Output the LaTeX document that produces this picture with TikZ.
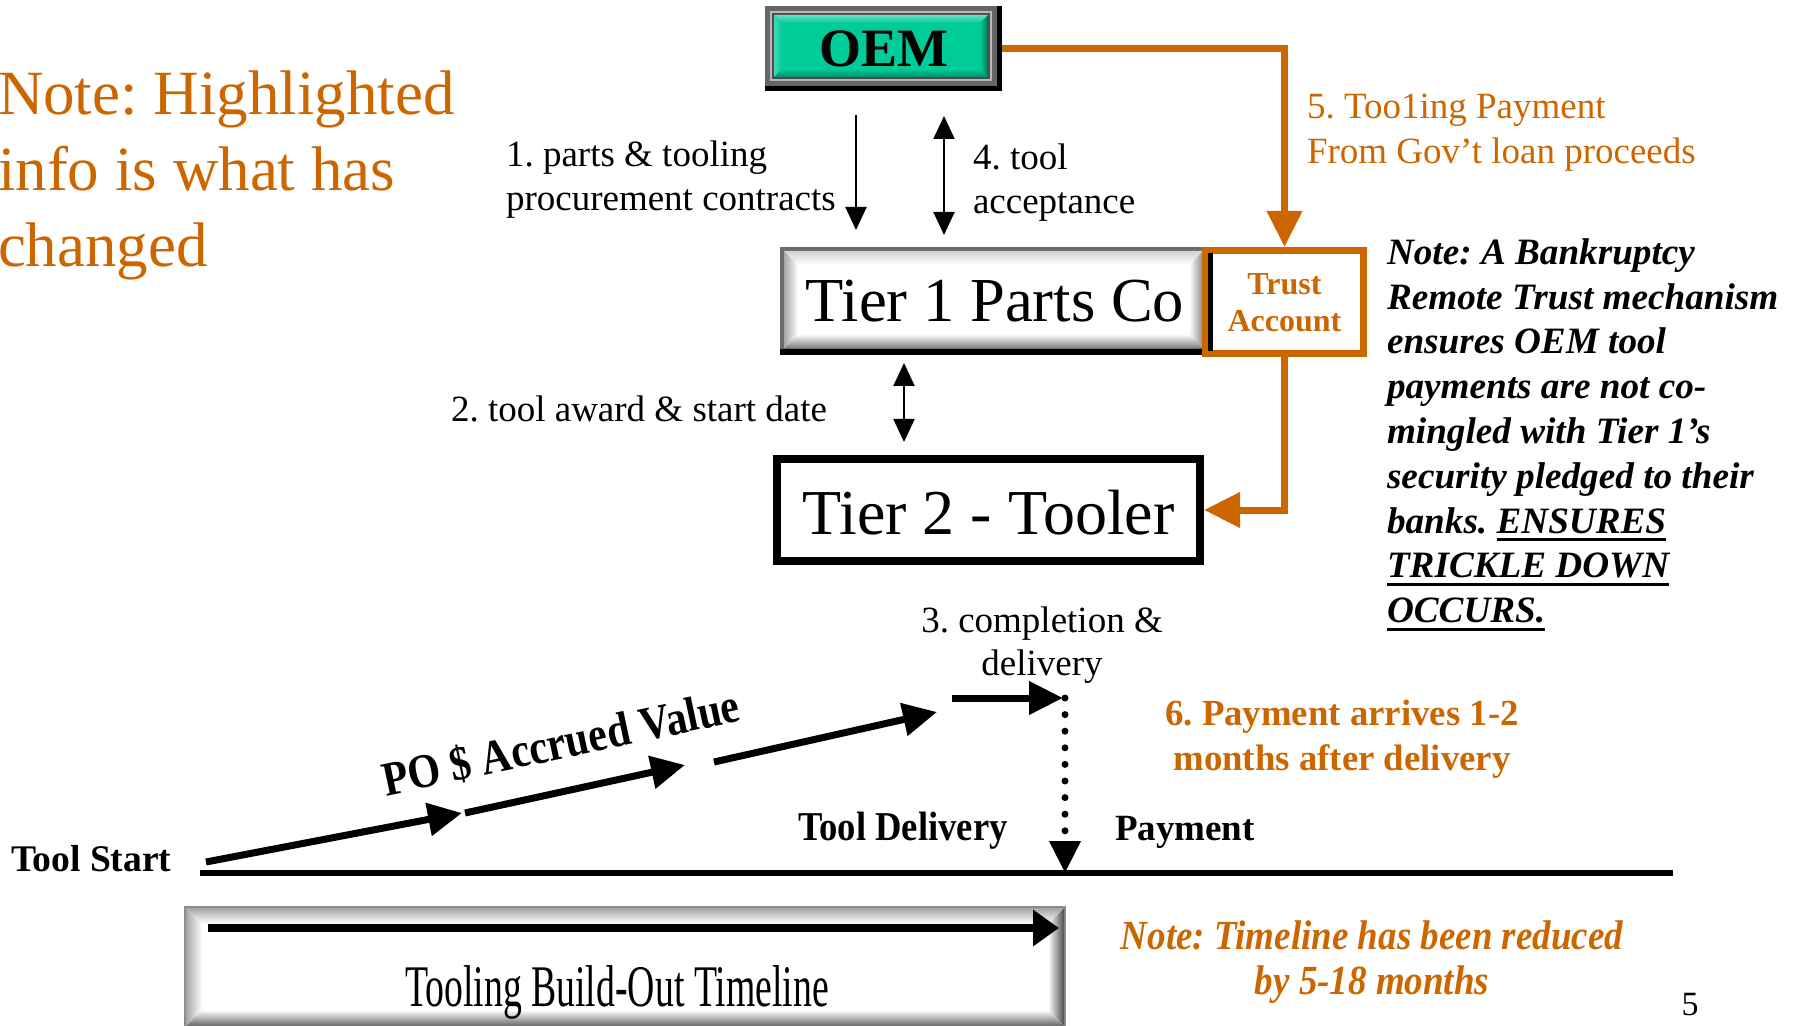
\documentclass[tikz,border=0pt]{standalone}
\usepackage{fontspec}
\usepackage{graphicx}
\setmainfont{Liberation Serif}
\frenchspacing
\usetikzlibrary{arrows.meta}
\definecolor{hl}{HTML}{CC6600}
\definecolor{tealbox}{HTML}{00CC99}
\newcommand{\mybevel}[5]{%
  \fill[bvc] (#1,#2) rectangle (#3,#4);
  \shade[top color=bvt, bottom color=bvc] (#1,#2) -- (#3,#2) -- ({#3-#5},{#2+#5}) -- ({#1+#5},{#2+#5}) -- cycle;
  \shade[left color=bvl, right color=bvc] (#1,#2) -- ({#1+#5},{#2+#5}) -- ({#1+#5},{#4-#5}) -- (#1,#4) -- cycle;
  \shade[left color=bvc, right color=bvr] (#3,#2) -- (#3,#4) -- ({#3-#5},{#4-#5}) -- ({#3-#5},{#2+#5}) -- cycle;
  \shade[top color=bvc, bottom color=bvb] (#1,#4) -- (#3,#4) -- ({#3-#5},{#4-#5}) -- ({#1+#5},{#4-#5}) -- cycle;
}
\newcommand{\myul}[1]{\sbox0{#1}\rlap{\rule[-4pt]{\wd0}{1.5pt}}\usebox0}
\tikzset{
  lbl/.style={inner sep=0pt, outer sep=0pt, font=\fontsize{18.5}{22}\selectfont},
  thinarr/.style={line width=1pt, -{Triangle[length=11.5pt,width=10.5pt]}},
  thinboth/.style={line width=1pt, {Triangle[length=11.5pt,width=10.5pt]}-{Triangle[length=11.5pt,width=10.5pt]}},
  thickarr/.style={line width=3.5pt, -{Triangle[length=17pt,width=16pt]}},
  orarr/.style={draw=hl, line width=3.5pt, line join=miter, -{Triangle[length=18pt,width=17pt]}},
  dotarr/.style={line width=3.5pt, line cap=round, dash pattern=on 0pt off 8.3pt, -{Triangle[length=16pt,width=15pt]}},
}
\begin{document}
\begin{tikzpicture}[x=0.5pt,y=-0.5pt]
\useasboundingbox (0,0) rectangle (1799,1026);

% ---------- OEM box (bevel) ----------
\fill[black] (765,6) rectangle (1002,91);
\fill[black!60] (765,6) rectangle (997,86);
\fill[black!28] (770,11) rectangle (992,81);
\fill[black!70] (772,13) rectangle (990,79);
\colorlet{bvc}{tealbox}\colorlet{bvt}{tealbox!60!white}\colorlet{bvl}{tealbox!75!white}
\colorlet{bvr}{tealbox!55!black}\colorlet{bvb}{tealbox!70!black}
\mybevel{774}{15}{988}{77}{8}
\node[inner sep=0pt, outer sep=0pt, minimum width=118.5pt, minimum height=42.5pt,
      text height=18.5pt, text depth=0pt, font=\fontsize{27}{30}\selectfont\bfseries] (oem) at (883.5,48.5) {OEM};

% ---------- Tier 1 box (bevel) ----------
\fill[black] (780,247) rectangle (1213,355);
\fill[black!58] (780,247) rectangle (1207,349);
\colorlet{bvc}{white}\colorlet{bvt}{black!18}\colorlet{bvl}{black!35}
\colorlet{bvr}{black!45}\colorlet{bvb}{black!50}
\mybevel{784}{251}{1203}{348}{14}
\node[inner sep=0pt, outer sep=0pt, minimum width=213.5pt, minimum height=54pt,
      text height=21pt, text depth=0pt, font=\fontsize{31.3}{34}\selectfont] (tier1) at (995,301) {Tier 1 Parts Co};

% ---------- Trust account ----------
\node[draw=hl, line width=3.5pt, fill=white, inner sep=0pt, minimum width=79pt, minimum height=51.5pt,
      text=hl, text height=13pt, text depth=20pt, font=\fontsize{16}{18.5}\selectfont\bfseries]
      (trust) at (1284.5,302) {\begin{tabular}[t]{@{}c@{}}Trust\\Account\end{tabular}};
\draw[line width=2.5pt] (1210.5,253) -- (1210.5,351);

% ---------- Tier 2 box ----------
\node[draw, line width=4pt, fill=white, inner sep=0pt, minimum width=211.5pt, minimum height=51pt,
      text height=24pt, text depth=0pt, font=\fontsize{32}{36}\selectfont] (tier2) at (988.5,510) {Tier 2 - Tooler};

% ---------- orange connectors ----------
\draw[orarr] (oem.east) -| (trust.north);
\draw[orarr] (trust.south) |- (tier2.east);

% ---------- thin arrows ----------
\coordinate (a1s) at (856,115); \coordinate (a1e) at (856,230);
\coordinate (a4s) at (944,116); \coordinate (a4e) at (944,235);
\coordinate (a2s) at (904,363); \coordinate (a2e) at (904,442);
\draw[thinarr] (a1s) -- (a1e);
\draw[thinboth] (a4s) -- (a4e);
\draw[thinboth] (a2s) -- (a2e);

% ---------- labels ----------
\node[lbl, anchor=north west, text=hl, font=\fontsize{31.5}{38}\selectfont] (note) at (-2,61.8)
  {\begin{tabular}{@{}l@{}}Note: Highlighted\\info is what has\\changed\end{tabular}};
\node[lbl, anchor=north west] (lab1) at (506,136.2)
  {\begin{tabular}{@{}l@{}}1. parts \& tooling\\procurement contracts\end{tabular}};
\node[lbl, anchor=north west] (lab4) at (973,139.2)
  {\begin{tabular}{@{}l@{}}4. tool\\acceptance\end{tabular}};
\node[lbl, anchor=north west, text=hl, font=\fontsize{18.5}{22.5}\selectfont] (lab5) at (1307,87)
  {\begin{tabular}{@{}l@{}}5. Too1ing Payment\\From Gov’t loan proceeds\end{tabular}};
\node[lbl, anchor=base west] (lab2) at (451,422) {2. tool award \& start date};
\node[lbl, anchor=north, font=\fontsize{18.5}{21.5}\selectfont] (lab3) at (1042,601.9)
  {\begin{tabular}{@{}c@{}}3. completion \&\\delivery\end{tabular}};
\node[lbl, anchor=north, text=hl, font=\fontsize{18.4}{22.5}\selectfont\bfseries] (lab6) at (1342,694)
  {\begin{tabular}{@{}c@{}}6. Payment arrives 1-2\\months after delivery\end{tabular}};
\node[lbl, anchor=north west, font=\fontsize{18.6}{22.4}\selectfont\bfseries\itshape] (trustnote) at (1387,233)
  {\begin{tabular}{@{}l@{}}Note: A Bankruptcy\\Remote Trust mechanism\\ensures OEM tool\\payments are not co-\\mingled with Tier 1’s\\security pledged to their\\banks. \myul{ENSURES}\\\myul{TRICKLE DOWN}\\\myul{OCCURS.}\end{tabular}};
\node[lbl, anchor=north, text=hl, font=\fontsize{18.5}{20}\selectfont\bfseries\itshape] (tlnote) at (1372,918)
  {\scalebox{1}[1.12]{\begin{tabular}{@{}c@{}}Note: Timeline has been reduced\\by 5-18 months\end{tabular}}};

% ---------- timeline ----------
\coordinate (tl0) at (200,873); \coordinate (tl1) at (1673,873);
\draw[line width=3pt] (tl0) -- (tl1);
\node[lbl, anchor=base west, font=\fontsize{18.8}{22}\selectfont\bfseries] (tstart) at (11,871) {Tool Start};
\node[lbl, anchor=base, font=\fontsize{18.3}{22}\selectfont\bfseries] (tdlab) at (903,840) {\scalebox{1}[1.12]{Tool Delivery}};
\node[lbl, anchor=base west, font=\fontsize{18.5}{22}\selectfont\bfseries] (paylab) at (1115,840) {Payment};
\node[lbl, rotate=12, font=\fontsize{21}{24}\selectfont\bfseries] (po) at (561,743) {\scalebox{1}[1.15]{PO \$ Accrued Value}};

\coordinate (t1s) at (206,862); \coordinate (t1e) at (462,813);
\coordinate (t2s) at (465,813); \coordinate (t2e) at (685,765);
\coordinate (t3s) at (714,762); \coordinate (t3e) at (937,712);
\coordinate (t4s) at (952,698); \coordinate (deliv) at (1063,698);
\coordinate (dtop) at (1065,698); \coordinate (tdel) at (1065,873);
\draw[thickarr] (t1s) -- (t1e);
\draw[thickarr] (t2s) -- (t2e);
\draw[thickarr] (t3s) -- (t3e);
\draw[thickarr] (t4s) -- (deliv);
\draw[dotarr] (dtop) -- (tdel);

% ---------- bottom bevel box ----------
\fill[black!45] (184,906) rectangle (1066,1028);
\colorlet{bvc}{white}\colorlet{bvt}{black!35}\colorlet{bvl}{black!35}
\colorlet{bvr}{black!70}\colorlet{bvb}{black!60}
\mybevel{186}{908}{1064}{1026}{16}
\coordinate (bb0) at (208,928); \coordinate (bb1) at (1059,928);
\draw[line width=4pt, -{Triangle[length=13pt,width=17.5pt]}] (bb0) -- (bb1);
\node[lbl, anchor=base, font=\fontsize{29.5}{32}\selectfont] (tbo) at (617,1006) {\scalebox{0.64}[1]{Tooling Build-Out Timeline}};

\node[lbl, anchor=base, font=\fontsize{17}{20}\selectfont] (pg) at (1690,1015) {5};
\end{tikzpicture}
\end{document}
